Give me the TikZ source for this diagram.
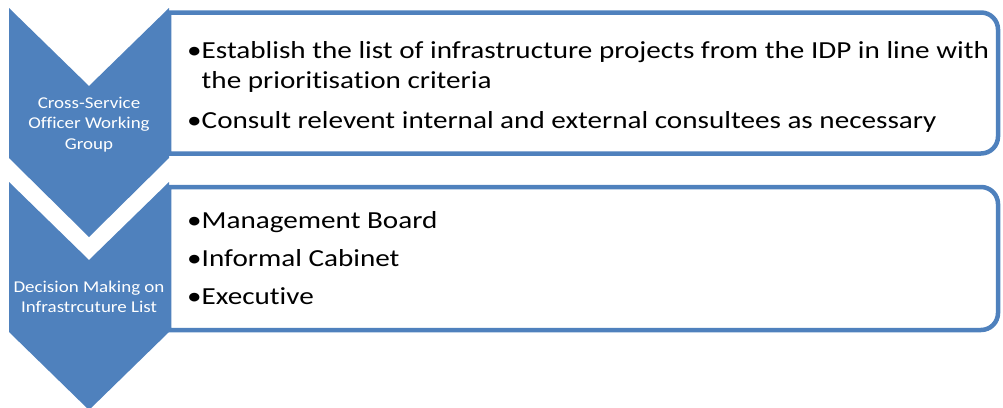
\documentclass[tikz,border=0pt]{standalone}
\usepackage{fontspec}
\setmainfont[FakeStretch=1.19,Ligatures=NoCommon]{Carlito}
\newfontfamily\chevfont[FakeStretch=1.15,Ligatures=NoCommon]{Carlito}
\definecolor{sablue}{HTML}{4F81BD}
\begin{document}
\begin{tikzpicture}[x=1pt,y=-1pt,
  chev/.style={fill=sablue},
  listbox/.style={draw=sablue, fill=white, line width=4.5pt},
  chevtext/.style={text=white, font=\chevfont\fontsize{16.5}{20.5}\selectfont, anchor=base, inner sep=0pt},
  itemtext/.style={font=\fontsize{24.5}{30}\selectfont, anchor=base west, inner sep=0pt}]
\useasboundingbox (0,0) rectangle (1003,407);
% chevrons
\path[chev] (9,8) -- (89,86) -- (169,8) -- (169,158) -- (89,237) -- (9,158) -- cycle;
\path[chev] (9,182) -- (89,260) -- (169,182) -- (169,332) -- (89,410) -- (9,332) -- cycle;
% list boxes
\draw[listbox] (169,153.5) -- (169,12.5) -- (981,12.5) .. controls (990.4,12.5) and (998,20.1) .. (998,29.5)
  -- (998,136.5) .. controls (998,145.9) and (990.4,153.5) .. (981,153.5) -- cycle;
\draw[listbox] (169,330) -- (169,187) -- (981,187) .. controls (990.4,187) and (998,194.6) .. (998,204)
  -- (998,313) .. controls (998,322.4) and (990.4,330) .. (981,330) -- cycle;
% chevron labels
\node[chevtext] (c1a) at (89,108) {Cross-Service};
\node[chevtext] (c1b) at (89,128.5) {Officer Working};
\node[chevtext] (c1c) at (89,149) {Group};
\node[chevtext] (c2a) at (89,292) {Decision Making on};
\node[chevtext] (c2b) at (89,312.5) {Infrastrcuture List};
% items
\node[itemtext] (a1) at (187,58.5) {•Establish the list of infrastructure projects from the IDP in line with};
\node[itemtext] (a2) at (187,88) {\phantom{•}the prioritisation criteria};
\node[itemtext] (a3) at (187,128.5) {•Consult relevent internal and external consultees as necessary};
\node[itemtext] (b1) at (187,228) {•Management Board};
\node[itemtext] (b2) at (187,266) {•Informal Cabinet};
\node[itemtext] (b3) at (187,304) {•Executive};
\end{tikzpicture}
\end{document}
